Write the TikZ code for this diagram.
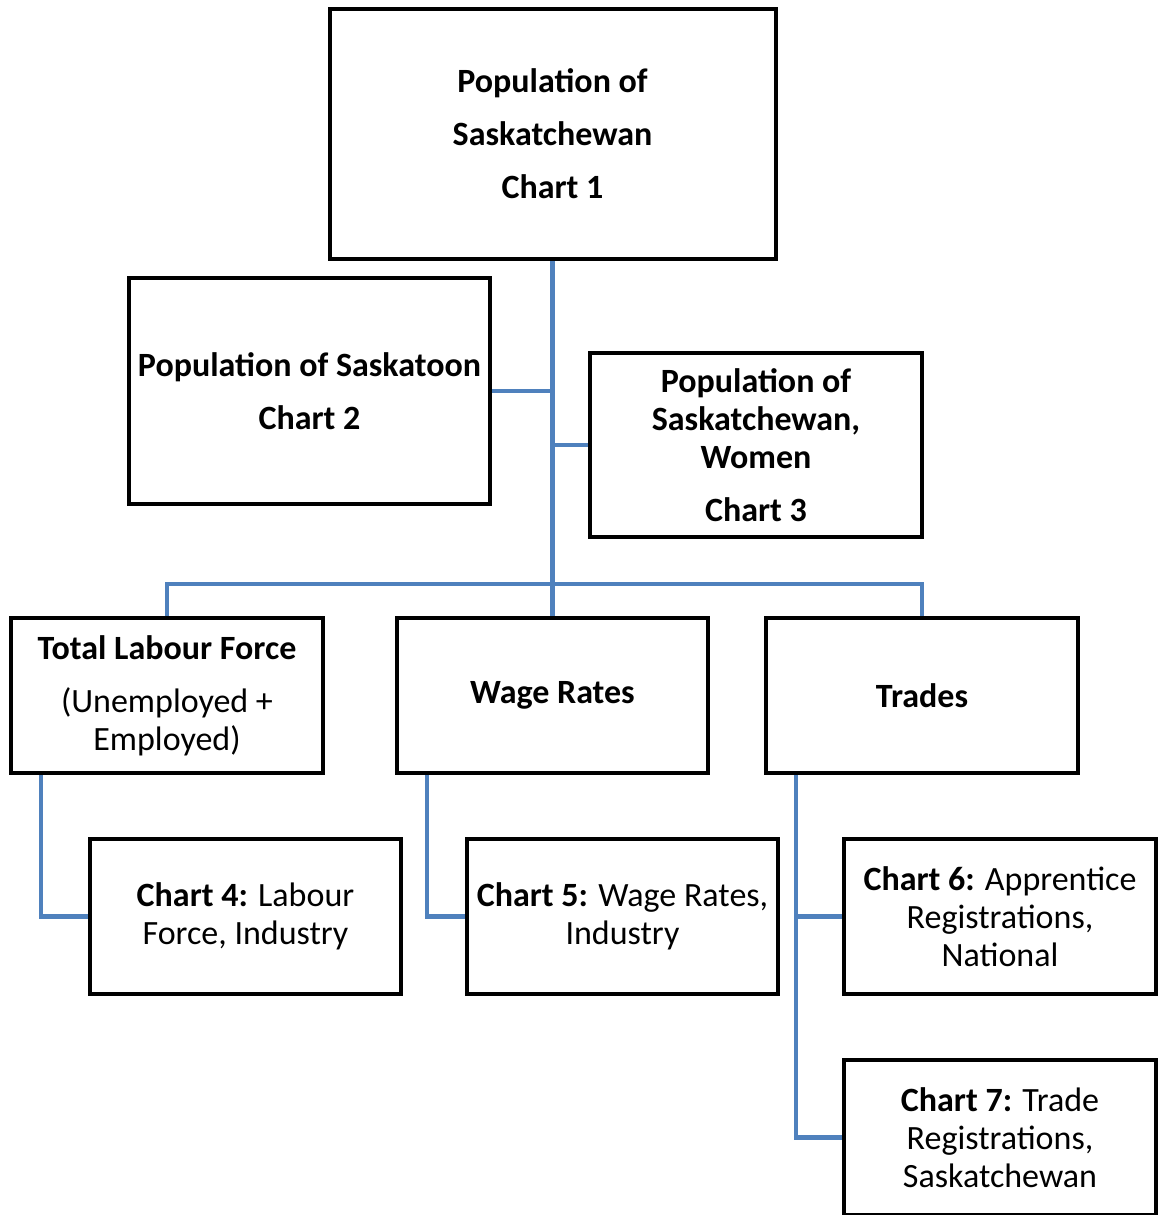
\documentclass[tikz,border=0pt]{standalone}
\usepackage{fontspec}
\setmainfont{Carlito}
\usepackage{tikz}

\definecolor{linkblue}{RGB}{79,129,189}

\begin{document}
\begin{tikzpicture}[x=0.5pt,y=-0.5pt,
	chartbox/.style={draw,line width=2pt,align=center,inner sep=0pt,
		font=\fontsize{17}{19}\selectfont},
	link/.style={draw=linkblue,line width=2.2pt}]
		\useasboundingbox (0,0) rectangle (1161,1215);
		\clip (0,0) rectangle (1161,1215);
		\node [chartbox,minimum width=223pt,minimum height=125pt] (c1) at (552.5,134)
		{\textbf{Population of}\\[7.5pt]\textbf{Saskatchewan}\\[7.5pt]\textbf{Chart 1}};
		\node [chartbox,minimum width=180.5pt,minimum height=113pt] (c2) at (309.5,391)
		{\textbf{Population of Saskatoon}\\[7.5pt]\textbf{Chart 2}};
		\node [chartbox,minimum width=166pt,minimum height=92pt] (c3) at (756,445)
		{\textbf{Population of}\\\textbf{Saskatchewan,}\\\textbf{Women}\\[7.5pt]\textbf{Chart 3}};
		\node [chartbox,minimum width=156pt,minimum height=77.5pt] (tlf) at (167,695.5)
		{\textbf{Total Labour Force}\\[7.5pt](Unemployed +\\Employed)};
		\node [chartbox,minimum width=155.5pt,minimum height=77.5pt] (wage) at (552.5,695.5)
		{\textbf{Wage Rates}};
		\node [chartbox,minimum width=156pt,minimum height=77.5pt] (trades) at (922,695.5)
		{\textbf{Trades}};
		\node [chartbox,minimum width=155.5pt,minimum height=77.5pt] (c4) at (245.5,916.5)
		{\textbf{Chart 4:} Labour\\Force, Industry};
		\node [chartbox,minimum width=155.5pt,minimum height=77.5pt] (c5) at (622.5,916.5)
		{\textbf{Chart 5:} Wage Rates,\\Industry};
		\node [chartbox,minimum width=156pt,minimum height=77.5pt] (c6) at (1000,916.5)
		{\textbf{Chart 6:} Apprentice\\Registrations,\\National};
		\node [chartbox,minimum width=156pt,minimum height=77.5pt] (c7) at (1000,1137.5)
		{\textbf{Chart 7:} Trade\\Registrations,\\Saskatchewan};
		\coordinate (bus) at (552.5,584);
		\draw [link]
		(c1.south) -- (wage.north)
		(c2.east) -- (c2.east -| c1.south)
		(c3.west) -- (c3.west -| c1.south)
		(tlf.north) |- (bus) -| (trades.north)
		([xshift=16pt]tlf.south west) |- (c4.west)
		([xshift=16pt]wage.south west) |- (c5.west)
		([xshift=16pt]trades.south west) |- (c6.west)
		([xshift=16pt]trades.south west) |- (c7.west);
	\end{tikzpicture}
\end{document}
